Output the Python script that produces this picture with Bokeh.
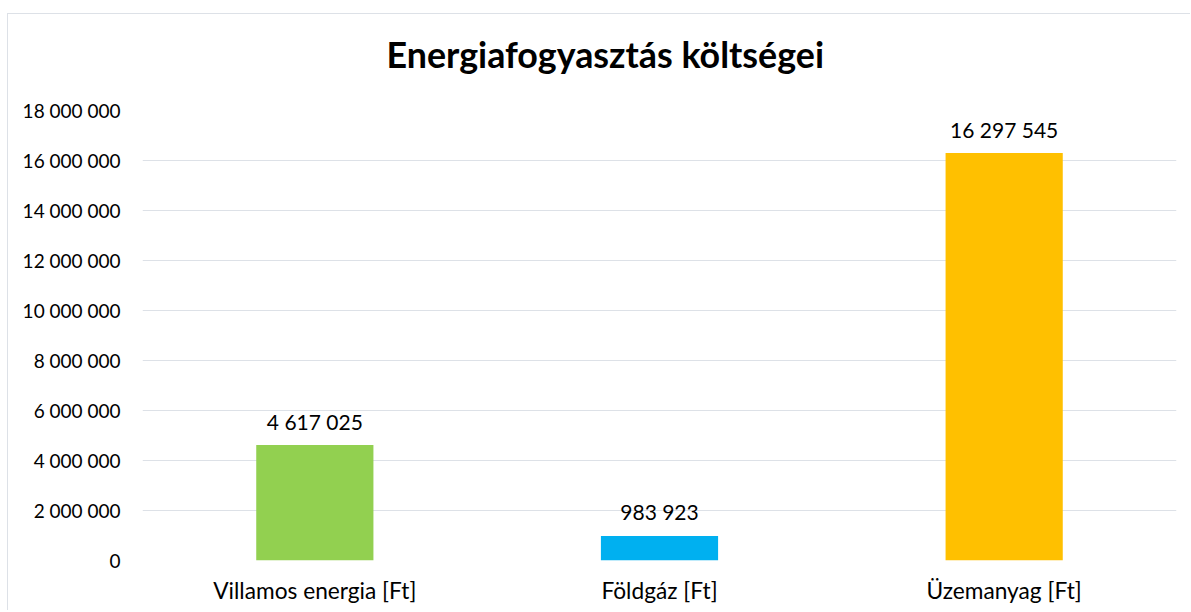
from bokeh.plotting import figure
from bokeh.models import ColumnDataSource, FixedTicker, Title
from bokeh.core.properties import value
from bokeh.embed import file_html
from bokeh.resources import INLINE

categories = ["Villamos energia [Ft]", "Földgáz [Ft]", "Üzemanyag [Ft]"]
values = [4617025, 983923, 16297545]
colors = ["#92D050", "#00B0F0", "#FFC000"]
tick_values = [0, 2000000, 4000000, 6000000, 8000000, 10000000, 12000000, 14000000, 16000000, 18000000]
tick_labels = ["0", "2 000 000", "4 000 000", "6 000 000", "8 000 000", "10 000 000",
               "12 000 000", "14 000 000", "16 000 000", "18 000 000"]
title_text = "Energiafogyasztás költségei"

FONT = "Lato"
GRID = "#dde1e7"

def fmt(v):
    return f"{v:,}".replace(",", " ")

src = ColumnDataSource(dict(cat=categories, val=values, color=colors,
                            lbl=[fmt(v) for v in values]))

p = figure(x_range=categories, y_range=(0, 18000000), width=1183, height=597,
           output_backend="svg", toolbar_location=None,
           min_border_left=134, min_border_right=15, min_border_top=96, min_border_bottom=51)
p.margin = (13, 0, 0, 7)
p.styles = {"border-top": f"1px solid {GRID}", "border-left": f"1px solid {GRID}"}

p.vbar(x="cat", top="val", width=0.34, color="color", source=src, line_width=0)
p.text(x="cat", y="val", text="lbl", source=src, y_offset=-24,
       text_align="center", text_baseline="alphabetic",
       text_font=value(FONT), text_font_size="21px", text_color="#000000")

# spacer between title and plot area (closest to the frame)
spacer = Title(text=" ", text_font_size="1px", standoff=32, text_color="white")
p.add_layout(spacer, "above")

t = Title(text=title_text, align="left", offset=244, text_font=FONT,
          text_font_size="35.8px", text_font_style="bold", text_color="#000000",
          vertical_align="bottom", standoff=0)
p.add_layout(t, "above")

p.outline_line_color = None
p.background_fill_color = "white"
p.border_fill_color = "white"

p.xgrid.grid_line_color = None
p.ygrid.grid_line_color = GRID
p.ygrid.grid_line_width = 1

p.yaxis.ticker = FixedTicker(ticks=tick_values)
p.yaxis.major_label_overrides = {tv: tl for tv, tl in zip(tick_values, tick_labels)}
p.yaxis.axis_line_color = None
p.yaxis.major_tick_line_color = None
p.yaxis.minor_tick_line_color = None
p.yaxis.major_tick_out = 0
p.yaxis.major_label_standoff = 22
p.yaxis.major_label_text_font = FONT
p.yaxis.major_label_text_font_size = "19px"
p.yaxis.major_label_text_color = "#000000"

p.xaxis.axis_line_color = None
p.xaxis.major_tick_line_color = None
p.xaxis.major_tick_out = 0
p.xaxis.major_label_standoff = 16
p.xaxis.major_label_text_font = FONT
p.xaxis.major_label_text_font_size = "22.7px"
p.xaxis.major_label_text_color = "#000000"

open("out.html", "w").write(file_html(p, INLINE))
